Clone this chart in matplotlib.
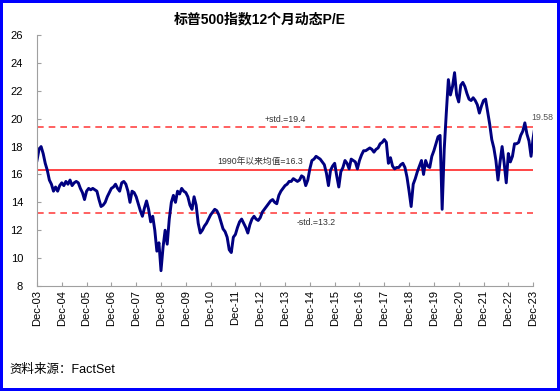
import matplotlib
matplotlib.use("Agg")
import matplotlib.pyplot as plt
import numpy as np
import pandas as pd

plt.rcParams['font.family'] = ['Liberation Sans', 'Noto Sans CJK SC', 'DejaVu Sans']

# 月度读数（2003年12月 - 2023年12月）
pe = [
    17.0, 17.8, 18.0, 17.5, 16.8, 16.3, 15.6, 15.3, 14.8, 15.1, 14.8, 15.2,
    15.4, 15.2, 15.5, 15.3, 15.6, 15.2, 15.4, 15.5, 15.4, 15.0, 14.7, 14.2,
    14.8, 15.0, 14.9, 15.0, 14.9, 14.8, 14.2, 13.7, 13.8, 14.0, 14.4, 14.7,
    15.0, 15.1, 15.3, 15.0, 14.8, 15.4, 15.5, 15.3, 14.8, 14.0, 14.8, 14.7,
    14.4, 13.9, 13.4, 13.0, 13.6, 14.1, 13.5, 12.6, 13.0, 12.0, 10.5, 11.1,
    9.1, 10.8, 12.0, 11.0, 12.8, 14.0, 14.5, 14.0, 14.8, 14.6, 15.0, 14.8,
    14.7, 14.4, 13.8, 13.5, 14.4, 13.8, 12.5, 11.8, 12.0, 12.3, 12.5, 12.8,
    13.1, 13.3, 13.5, 13.4, 13.1, 12.6, 12.1, 11.9, 11.5, 10.6, 10.4, 11.5,
    11.7, 12.2, 12.6, 12.8, 12.5, 12.2, 11.8, 12.4, 12.8, 13.0, 12.8, 12.7,
    12.9, 13.3, 13.5, 13.7, 13.9, 14.1, 14.2, 14.0, 13.9, 14.5, 14.8, 15.0,
    15.2, 15.3, 15.5, 15.5, 15.7, 15.6, 15.5, 15.6, 15.9, 15.8, 15.2, 15.6,
    16.4, 17.0, 17.1, 17.3, 17.2, 17.1, 16.9, 16.7, 16.1, 15.2, 16.3, 16.6,
    16.8, 15.9, 15.1, 16.2, 16.5, 17.0, 16.8, 16.4, 17.1, 17.0, 16.9, 16.4,
    17.0, 17.4, 17.7, 17.7, 17.8, 17.9, 17.8, 17.6, 17.8, 17.9, 18.2, 18.3,
    18.5, 18.3, 16.8, 17.2, 16.6, 16.4, 16.5, 16.5, 16.7, 16.8, 16.5, 15.8,
    14.8, 13.7, 15.3, 15.7, 16.2, 16.6, 17.0, 16.0, 17.0, 16.6, 16.5, 17.3,
    17.7, 18.2, 18.7, 18.8, 13.5, 17.8, 20.4, 22.8, 21.7, 22.3, 23.3, 21.7,
    21.2, 22.4, 22.6, 22.3, 21.8, 21.4, 21.3, 21.5, 21.3, 21.0, 20.4, 20.9,
    21.3, 21.4, 20.5, 19.6, 18.5, 17.9, 17.0, 15.6, 16.9, 18.0, 16.8, 15.4,
    17.5, 16.9, 17.3, 18.2, 18.2, 18.3, 18.8, 19.1, 19.7, 18.9, 18.4, 17.3,
    18.6, 19.58,
]
months = np.arange(len(pe))
tick_labels = ['Dec-%02d' % y for y in range(3, 24)]

mean_pe = 16.3
plus_std = 19.4
minus_std = 13.2

fig = plt.figure(figsize=(5.6, 3.91), dpi=100)
fig.patch.set_edgecolor('#0000FF')
fig.patch.set_linewidth(3)
ax = fig.add_axes([0.066, 0.2685, 0.886, 0.642])

red = '#FF4545'
ax.axhline(plus_std, color=red, lw=1.2, ls=(0, (4, 3)))
ax.axhline(mean_pe, color=red, lw=1.4)
ax.axhline(minus_std, color=red, lw=1.2, ls=(0, (4, 3)))
ax.plot(months, pe, color='#000080', lw=2.1)

ax.text(120, plus_std + 0.25, '+std.=%.1f' % plus_std, fontsize=6.3, color='#333333', ha='center', va='bottom')
ax.text(108, mean_pe + 0.3, '1990年以来均值=%.1f' % mean_pe, fontsize=6.3, color='#333333', ha='center', va='bottom')
ax.text(135, minus_std - 0.35, '-std.=%.1f' % minus_std, fontsize=6.3, color='#333333', ha='center', va='top')
ax.text(months[-1] - 2, pe[-1] + 0.15, '%.2f' % pe[-1], fontsize=6.3, color='#555555', ha='left', va='bottom')

ax.set_xlim(0, 240)
ax.set_ylim(8, 26)
ax.set_xticks(np.arange(0, 241, 12))
ax.set_xticklabels(tick_labels, rotation=90, fontsize=8)
ax.set_yticks(np.arange(8, 27, 2))
ax.tick_params(axis='y', labelsize=8, direction='in', length=3, color='#A0A0A0', pad=10)
ax.tick_params(axis='x', direction='in', length=3, color='#A0A0A0', pad=3)
for s in ['top', 'right']:
    ax.spines[s].set_visible(False)
for s in ['left', 'bottom']:
    ax.spines[s].set_color('#A0A0A0')

fig.text(0.463, 0.951, '标普500指数12个月动态P/E', fontsize=10, fontweight='bold', ha='center', va='center')
fig.text(0.016, 0.054, '资料来源：FactSet', fontsize=9, ha='left', va='center')

fig.savefig('out.png', dpi=100, edgecolor=fig.get_edgecolor())
